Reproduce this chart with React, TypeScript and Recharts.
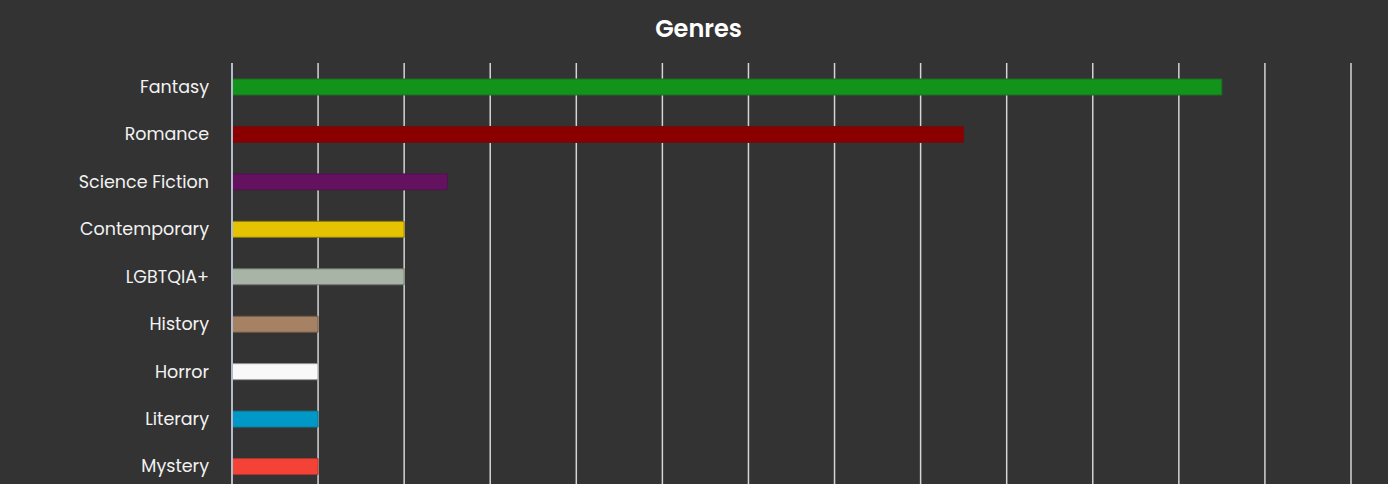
import React from "react";
import { BarChart, Bar, XAxis, YAxis, CartesianGrid, Cell } from "recharts";

const genres = ["Fantasy", "Romance", "Science Fiction", "Contemporary", "LGBTQIA+", "History", "Horror", "Literary", "Mystery"];
const counts = [11.5, 8.5, 2.5, 2, 2, 1, 1, 1, 1];
const colors = ["#12931b", "#8a0000", "#641160", "#e6c300", "#a8b5a6", "#a68163", "#f9f9f9", "#0099c7", "#f44336"];
const strokes = ["#1f6b22", "#6a1010", "#4a1548", "#8a7a10", "#6e756c", "#6e5a48", "#999999", "#1a6f88", "#a83a32"];
const xTicks = [0, 1, 2, 3, 4, 5, 6, 7, 8, 9, 10, 11, 12, 13];

const data = genres.map((g, i) => ({ genre: g, count: counts[i] }));

const FONT = "Poppins, 'Open Sans', sans-serif";

export default function App() {
  return (
    <div style={{ position: "absolute", top: 0, left: 0, width: 1388, height: 484, background: "#333333", overflow: "hidden", fontFamily: FONT }}>
      <div style={{ position: "absolute", top: 11, left: 0, width: 1397, textAlign: "center", color: "#ffffff", fontWeight: 600, fontSize: 24, fontFamily: FONT }}>
        Genres
      </div>
      <div style={{ position: "absolute", top: 0, left: 0 }}>
        <BarChart width={1388} height={500} data={data} layout="vertical" margin={{ top: 63, right: 37, bottom: 10, left: 0 }} barCategoryGap="33%">
          <CartesianGrid horizontal={false} vertical={true} stroke="#d4d4d4" strokeWidth={1.5} />
          <XAxis type="number" domain={[0, 13]} ticks={xTicks} hide />
          <YAxis
            type="category"
            dataKey="genre"
            width={232}
            axisLine={{ stroke: "#b4bccb", strokeWidth: 2 }}
            tickLine={false}
            tickSize={0}
            tickMargin={23}
            tick={{ fill: "#f2f2f2", fontSize: 17.5, fontFamily: FONT }}
            interval={0}
          />
          <Bar dataKey="count" barSize={16} isAnimationActive={false}>
            {data.map((d, i) => (
              <Cell key={d.genre} fill={colors[i]} stroke={strokes[i]} strokeWidth={1} />
            ))}
          </Bar>
        </BarChart>
      </div>
    </div>
  );
}
